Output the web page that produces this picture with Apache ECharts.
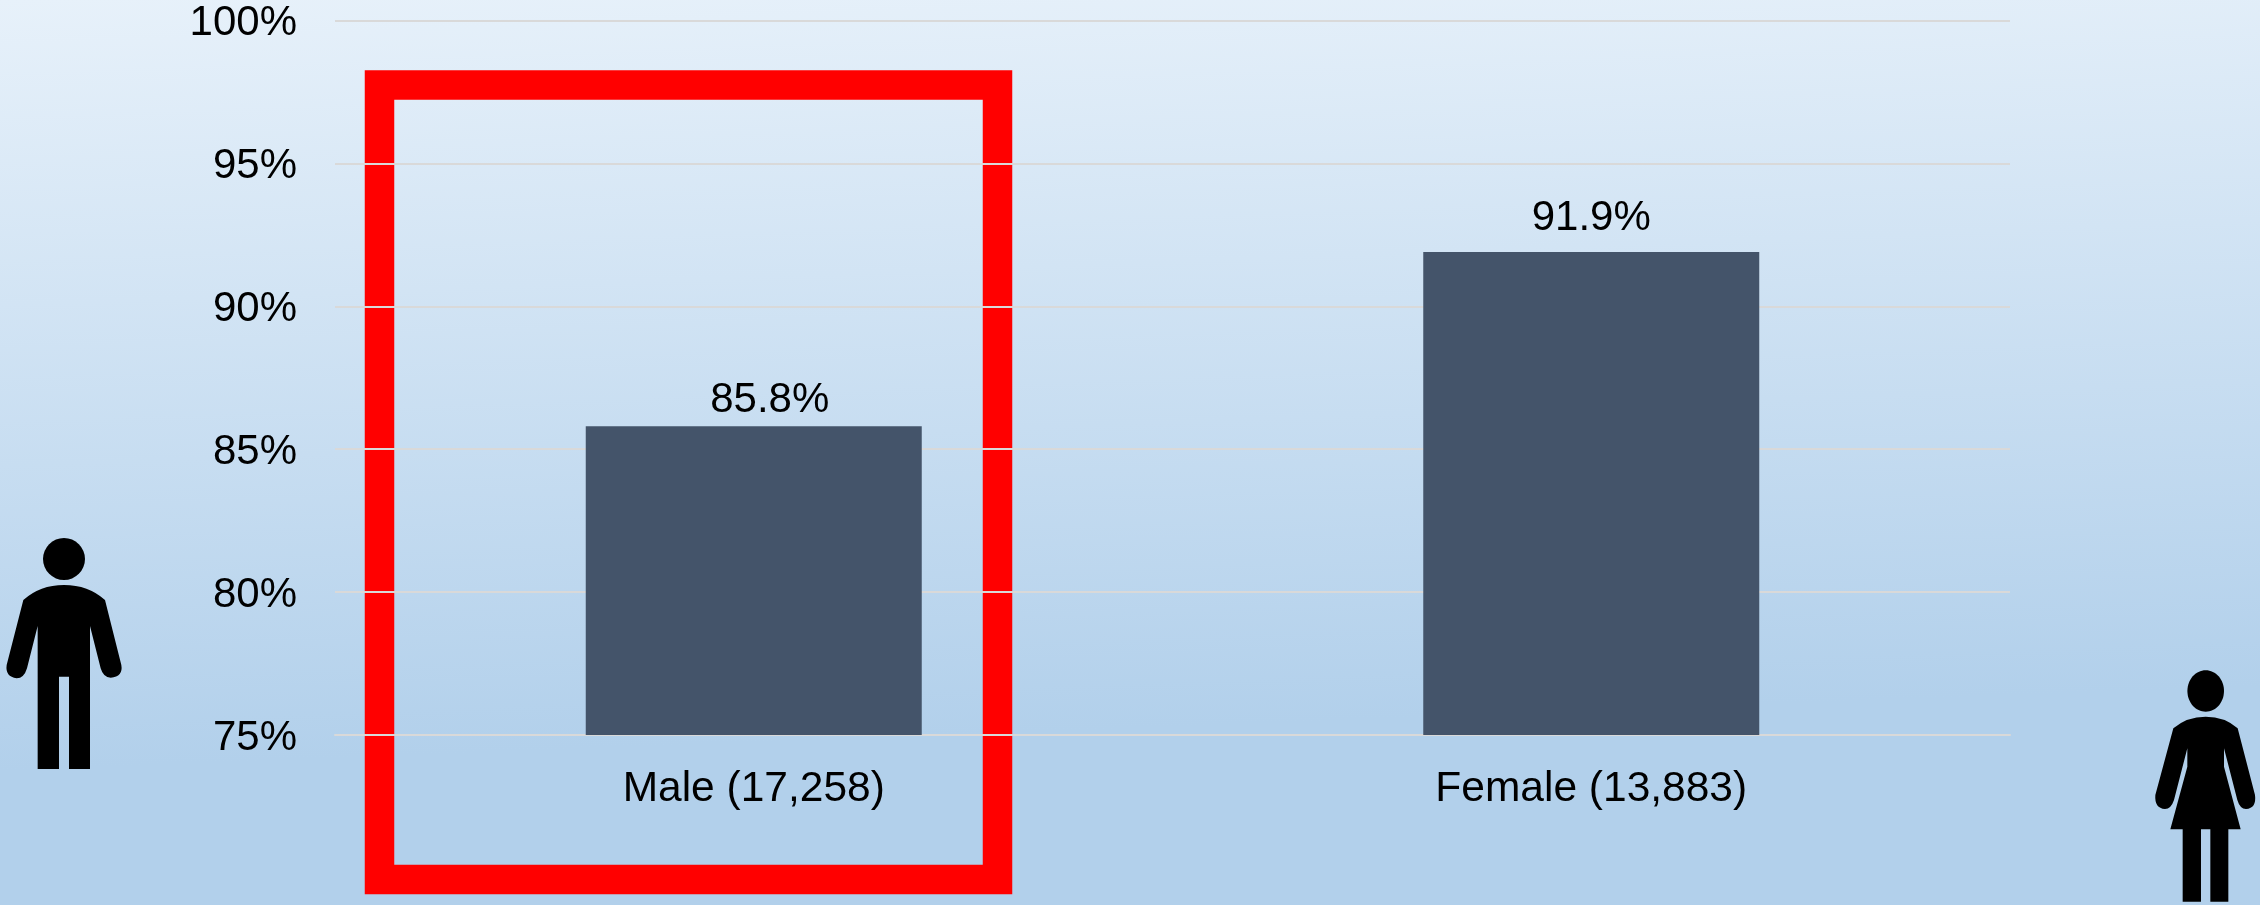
<!DOCTYPE html>
<html>
<head>
<meta charset="utf-8">
<style>
html, body { margin: 0; padding: 0; }
#main { width: 2260px; height: 905px; }
</style>
<script src="https://cdn.jsdelivr.net/npm/echarts@6/dist/echarts.min.js"></script>
</head>
<body>
<div id="main"></div>
<script>
const categories = ['Male (17,258)', 'Female (13,883)'];
const percentValues = [85.8, 91.9];
const axisMin = 75;
const axisMax = 100;
const axisStep = 5;

const FONT = '"Liberation Sans", Arial, sans-serif';

// pictograms, traced at 3x from the picture
const manBody = 'M70 300 Q120 255 192 255 Q265 255 315 300 L364 495 Q370 530 332 533 Q310 533 302 505 L270 378 L270 807 L207 807 L207 530 L177 530 L177 807 L113 807 L113 378 L81 505 Q72 535 50 535 Q15 530 20 495 Z';
const womanBody = 'M220 265 Q260 230 317 230 Q375 230 413 265 L465 465 Q470 505 438 507 Q420 507 412 480 L372 325 L372 380 L422 568 L385 568 L385 785 L331 785 L331 568 L303 568 L303 785 L248 785 L248 568 L211 568 L262 380 L262 325 L222 480 Q213 507 195 507 Q163 505 166 465 Z';

// the graphic component has no plain path type, so register the two bodies as shapes
echarts.graphic.registerShape('manBody', echarts.graphic.extendPath(manBody, {}));
echarts.graphic.registerShape('womanBody', echarts.graphic.extendPath(womanBody, {}));

let chart = echarts.init(document.getElementById('main'), null, {renderer: 'canvas'});
chart.setOption({
    animation: false,
    backgroundColor: {
        type: 'linear',
        x: 0, y: 0, x2: 0.015, y2: 1,
        colorStops: [
            {offset: 0, color: '#E7F1FA'},
            {offset: 0.85, color: '#B2D0EB'},
            {offset: 1, color: '#B2D0EB'}
        ]
    },
    grid: {left: 335, right: 250, top: 20.5, bottom: 170},
    xAxis: {
        type: 'category',
        data: categories,
        axisLine: {show: true, lineStyle: {color: '#D9D9D9', width: 2}},
        axisTick: {show: false},
        axisLabel: {color: '#000', fontFamily: FONT, fontSize: 42.5, margin: 33}
    },
    yAxis: {
        type: 'value',
        min: axisMin,
        max: axisMax,
        interval: axisStep,
        axisLine: {show: false},
        axisTick: {show: false},
        splitLine: {lineStyle: {color: '#D9D9D9', width: 2}},
        axisLabel: {
            color: '#000',
            fontFamily: FONT,
            fontSize: 42,
            margin: 38,
            // small line box hung from the tick: digits sit centred on the gridline
            verticalAlign: 'top',
            lineHeight: 6,
            formatter: '{value}%'
        }
    },
    series: [{
        type: 'bar',
        barWidth: 336,
        itemStyle: {color: '#44546A'},
        label: {
            show: true,
            position: 'top',
            color: '#000',
            fontFamily: FONT,
            fontSize: 42,
            formatter: '{c}%'
        },
        data: [
            {value: percentValues[0], label: {offset: [16, 0], distance: 5}},
            {value: percentValues[1], label: {distance: 13}}
        ]
    }],
    graphic: [
        {
            type: 'rect',
            z: -1,
            shape: {x: 379.5, y: 85, width: 618, height: 794.5},
            style: {fill: 'none', stroke: '#FF0000', lineWidth: 29.5}
        },
        {type: 'circle', shape: {cx: 64, cy: 559, r: 21}, style: {fill: '#000'}},
        {type: 'manBody', x: 0, y: 500, scaleX: 1 / 3, scaleY: 1 / 3, style: {fill: '#000'}},
        {type: 'ellipse', shape: {cx: 2205.7, cy: 691, rx: 18.3, ry: 20.7}, style: {fill: '#000'}},
        {type: 'womanBody', x: 2100, y: 640, scaleX: 1 / 3, scaleY: 1 / 3, style: {fill: '#000'}}
    ]
});
</script>
</body>
</html>
